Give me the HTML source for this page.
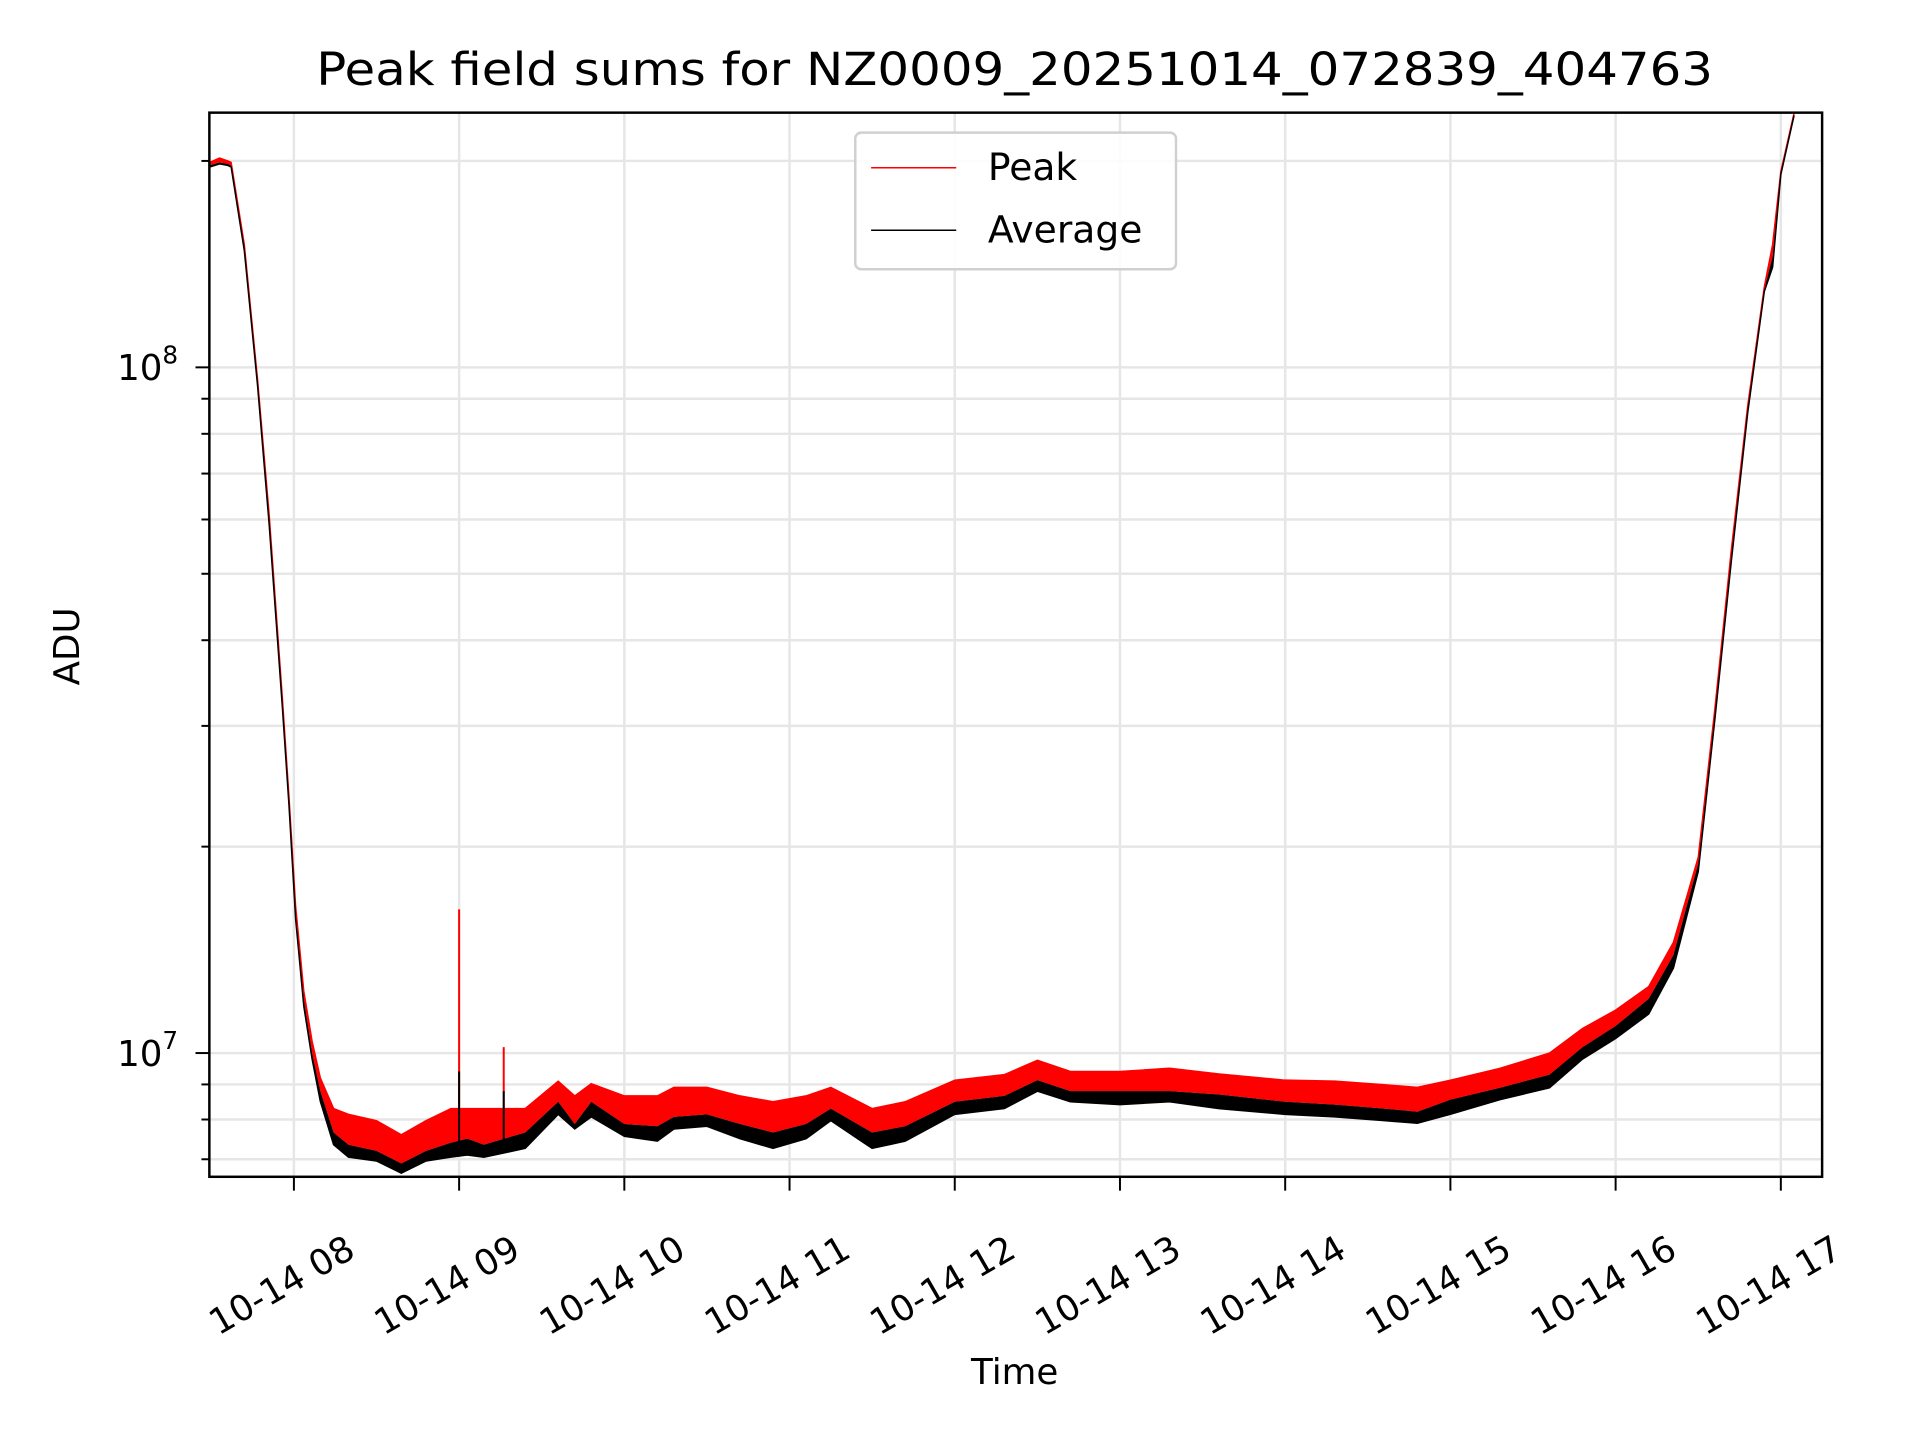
<!DOCTYPE html>
<html><head><meta charset="utf-8"><title>Peak field sums</title>
<style>html,body{margin:0;padding:0;background:#fff;}svg{display:block;font-family:"DejaVu Sans","Liberation Sans",sans-serif;}</style>
</head><body>
<svg id="chart" width="1920" height="1440" viewBox="0 0 1920 1440" xmlns="http://www.w3.org/2000/svg">
<rect width="1920" height="1440" fill="#fff"/>
<g transform="scale(0.9899)">
<g id="grid"></g>
<defs><clipPath id="plotclip"><rect x="211.5" y="113.8" width="1629.2" height="1075"/></clipPath></defs>
<g id="series" clip-path="url(#plotclip)"></g>
<rect x="211.5" y="113.8" width="1629.2" height="1075" fill="none" stroke="#000" stroke-width="2.5"/>
<g id="ticks"></g>
<text x="1025" y="86" text-anchor="middle" font-size="46" textLength="1411" lengthAdjust="spacingAndGlyphs">Peak field sums for NZ0009_20251014_072839_404763</text>
<text x="0" y="0" transform="translate(80,653) rotate(-90)" text-anchor="middle" font-size="36">ADU</text>
<text x="1025" y="1398" text-anchor="middle" font-size="36">Time</text>
<g>
<rect x="864" y="134" width="324" height="138" rx="6" fill="#fff" fill-opacity="0.85" stroke="#d0d0d0" stroke-width="2.5"/>
<line x1="880" y1="169.5" x2="966" y2="169.5" stroke="#ff0000" stroke-width="1.5"/>
<text x="998" y="182" font-size="38">Peak</text>
<line x1="880" y1="232.6" x2="966" y2="232.6" stroke="#000" stroke-width="1.5"/>
<text x="998" y="245" font-size="38">Average</text>
</g>
</g>
</svg>
<script>
const times = [7.49,7.55,7.6,7.62,7.70,7.78,7.85,7.93,7.97,8.01,8.06,8.11,8.16,8.24,8.33,8.5,8.65,8.8,8.95,9.05,9.15,9.4,9.6,9.7,9.8,10.0,10.2,10.3,10.5,10.7,10.9,11.1,11.25,11.5,11.7,12.0,12.3,12.5,12.7,13.0,13.3,13.6,14.0,14.3,14.6,14.8,15.0,15.3,15.6,15.8,16.0,16.2,16.35,16.5,16.6,16.7,16.8,16.9,16.95,17.0,17.08];
const peakValues = [1.99e8,2.02e8,2.0e8,1.99e8,1.51e8,9.6e7,6.1e7,3.3e7,2.37e7,1.64e7,1.23e7,1.04e7,9.2e6,8.3e6,8.14e6,7.97e6,7.6e6,7.97e6,8.3e6,8.3e6,8.3e6,8.3e6,9.1e6,8.66e6,9.02e6,8.66e6,8.66e6,8.91e6,8.91e6,8.66e6,8.49e6,8.66e6,8.91e6,8.3e6,8.49e6,9.13e6,9.3e6,9.76e6,9.4e6,9.4e6,9.5e6,9.32e6,9.13e6,9.1e6,8.99e6,8.91e6,9.13e6,9.5e6,1.0e7,1.086e7,1.155e7,1.25e7,1.45e7,1.93e7,3.16e7,5.4e7,8.8e7,1.31e8,1.51e8,1.93e8,2.35e8];
const avgValues = [1.97e8,1.99e8,1.98e8,1.97e8,1.49e8,9.5e7,6.0e7,3.25e7,2.33e7,1.6e7,1.2e7,1.0e7,8.8e6,7.66e6,7.35e6,7.2e6,6.9e6,7.2e6,7.4e6,7.5e6,7.35e6,7.66e6,8.49e6,7.88e6,8.49e6,7.88e6,7.82e6,8.07e6,8.14e6,7.88e6,7.66e6,7.88e6,8.3e6,7.66e6,7.82e6,8.49e6,8.66e6,9.13e6,8.8e6,8.8e6,8.8e6,8.7e6,8.49e6,8.41e6,8.3e6,8.21e6,8.55e6,8.9e6,9.3e6,1.02e7,1.095e7,1.2e7,1.39e7,1.89e7,3.1e7,5.3e7,8.7e7,1.3e8,1.45e8,1.92e8,2.34e8];
const avgLowValues = [1.96e8,1.98e8,1.97e8,1.96e8,1.48e8,9.4e7,5.9e7,3.2e7,2.3e7,1.57e7,1.17e7,9.8e6,8.5e6,7.35e6,7.05e6,6.96e6,6.68e6,6.96e6,7.05e6,7.1e6,7.05e6,7.26e6,8.14e6,7.75e6,8.07e6,7.56e6,7.44e6,7.75e6,7.82e6,7.5e6,7.26e6,7.5e6,7.97e6,7.26e6,7.44e6,8.14e6,8.3e6,8.8e6,8.49e6,8.41e6,8.49e6,8.3e6,8.14e6,8.07e6,7.97e6,7.9e6,8.14e6,8.55e6,8.9e6,9.8e6,1.05e7,1.14e7,1.33e7,1.84e7,3.05e7,5.2e7,8.6e7,1.29e8,1.4e8,1.91e8,2.33e8];
const spikeTimes = [9.0,9.27];
const spikePeak = [1.62e7,1.02e7];
const spikeAvg = [9.4e6,8.8e6];
const xTickHours = [8,9,10,11,12,13,14,15,16,17];
const xTickLabels = ["10-14 08","10-14 09","10-14 10","10-14 11","10-14 12","10-14 13","10-14 14","10-14 15","10-14 16","10-14 17"];
const yMajorExp = [7,8];

const NS="http://www.w3.org/2000/svg";
const L=211.5,R=1840.7,T=113.8,B=1188.8;
function xs(t){return 296.9+(t-8)*166.9;}
function ys(v){return 1063.8-(Math.log10(v)-7)*692.7;}
function mk(tag,attrs,parent){const e=document.createElementNS(NS,tag);for(const k in attrs)e.setAttribute(k,attrs[k]);parent.appendChild(e);return e;}
const grid=document.getElementById('grid'),ticks=document.getElementById('ticks'),series=document.getElementById('series');

for(let d=6;d<=8;d++){for(let m=1;m<=9;m++){const v=m*Math.pow(10,d);const y=ys(v);if(y<T||y>B)continue;
 const gl=mk('line',{x1:L,x2:R,y1:y,y2:y,stroke:'#e6e6e6','stroke-width':2.5},grid);
 
 
 const tk=mk('line',{x1:L-(m===1?14:8),x2:L,y1:y,y2:y,stroke:'#000','stroke-width':2},ticks);
 
 
}}
yMajorExp.forEach(e=>{const y=ys(Math.pow(10,e));
 const t=mk('text',{x:180,y:y+13,'text-anchor':'end','font-size':36},ticks);
 
 
 t.appendChild(document.createTextNode('10'));
 const s=mk('tspan',{dy:-17,'font-size':25},t);s.textContent=String(e);
});
xTickHours.forEach((h,i)=>{const x=xs(h);
 const gl=mk('line',{x1:x,x2:x,y1:T,y2:B,stroke:'#e6e6e6','stroke-width':2.5},grid);
 
 
 const tk=mk('line',{x1:x,x2:x,y1:B,y2:B+14,stroke:'#000','stroke-width':2},ticks);
 
 
 const cx=x-12,cy=1299;
 const t=mk('text',{x:cx,y:cy,'text-anchor':'middle','dominant-baseline':'central','font-size':36,transform:'rotate(-30 '+cx+' '+cy+')'},ticks);
 
 
 t.textContent=xTickLabels[i];
});
function pts(arr){return times.map((t,i)=>xs(t).toFixed(1)+','+ys(arr[i]).toFixed(1));}
const band1=mk('polygon',{points:pts(peakValues).concat(pts(avgValues).reverse()).join(' '),fill:'#ff0000',stroke:'none'},series);


const band2=mk('polygon',{points:pts(avgValues).concat(pts(avgLowValues).reverse()).join(' '),fill:'#000',stroke:'none'},series);


const pl=mk('polyline',{points:pts(peakValues).join(' '),fill:'none',stroke:'#ff0000','stroke-width':1.5},series);


const al=mk('polyline',{points:pts(avgLowValues).join(' '),fill:'none',stroke:'#000','stroke-width':1.5},series);


spikeTimes.forEach((t,i)=>{const x=xs(t);
 const s=mk('line',{x1:x,x2:x,y1:ys(spikePeak[i]),y2:ys(8e6),stroke:'#ff0000','stroke-width':2},series);
 
 
 const a=mk('line',{x1:x,x2:x,y1:ys(spikeAvg[i]),y2:ys(7.3e6),stroke:'#000','stroke-width':2},series);
 
 
});
</script>
</body></html>
